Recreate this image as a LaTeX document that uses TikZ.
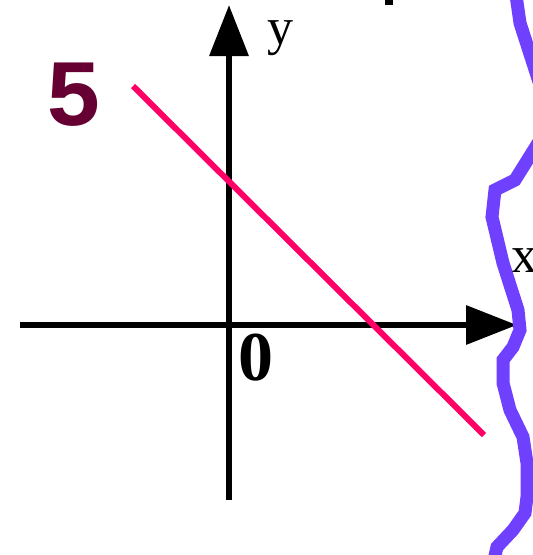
\documentclass[tikz,border=0pt]{standalone}
\usepackage{fontspec}
\setmainfont{Liberation Serif}
\newfontfamily\monofont{Liberation Mono}
\usetikzlibrary{arrows.meta}
\definecolor{linepink}{RGB}{255,0,102}
\definecolor{wavepurple}{RGB}{112,64,255}
\definecolor{labelmaroon}{RGB}{102,0,51}

\begin{document}
\begin{tikzpicture}[
  x=1pt, y=-1pt,
  axis/.style={line width=6.5pt, -{Triangle[length=51pt,width=38pt]}},
  graphline/.style={draw=linepink, line width=6pt},
  wave/.style={draw=wavepurple, line width=13pt, line join=miter},
  axislabel/.style={inner sep=0pt, anchor=base west, font=\fontsize{52}{60}\selectfont},
  numlabel/.style={inner sep=0pt, anchor=base west}
]
  \useasboundingbox (0,0) rectangle (533,555);

  % axes
  \coordinate (orig) at (229,325);
  \coordinate (xleft) at (20,325);
  \coordinate (xtip) at (517,325);
  \coordinate (ybottom) at (229,500);
  \coordinate (ytip) at (229,5);
  \draw[axis] (xleft) -- (xtip);
  \draw[axis] (ybottom) -- (ytip);

  \node[axislabel] (ylab) at (267,44) {y};
  \node[axislabel] (xlab) at (511,272) {x};
  \node[numlabel, font=\fontsize{70}{80}\selectfont\bfseries] (zero) at (238,380) {0};
  \node[numlabel, text=labelmaroon, font=\fontsize{95}{100}\selectfont\monofont\bfseries] (five) at (45,125) {5};

  % the line
  \coordinate (lineA) at (133,86);
  \coordinate (lineB) at (484,435);
  \draw[graphline] (lineA) -- (lineB);

  % torn edge
  \draw[wave] (516,-5) -- (520,23) -- (540,85) -- (540,140) -- (515,180) -- (495,190)
    -- (492,217) -- (503,263) -- (518,310) -- (520,330) -- (513,347) -- (503,360)
    -- (503,383) -- (510,410) -- (523,437) -- (527,463) -- (527,497) -- (525,513)
    -- (513,530) -- (497,547) -- (494,560);

  % scrap at top
  \fill (385,0) rectangle (393,5);
\end{tikzpicture}
\end{document}
